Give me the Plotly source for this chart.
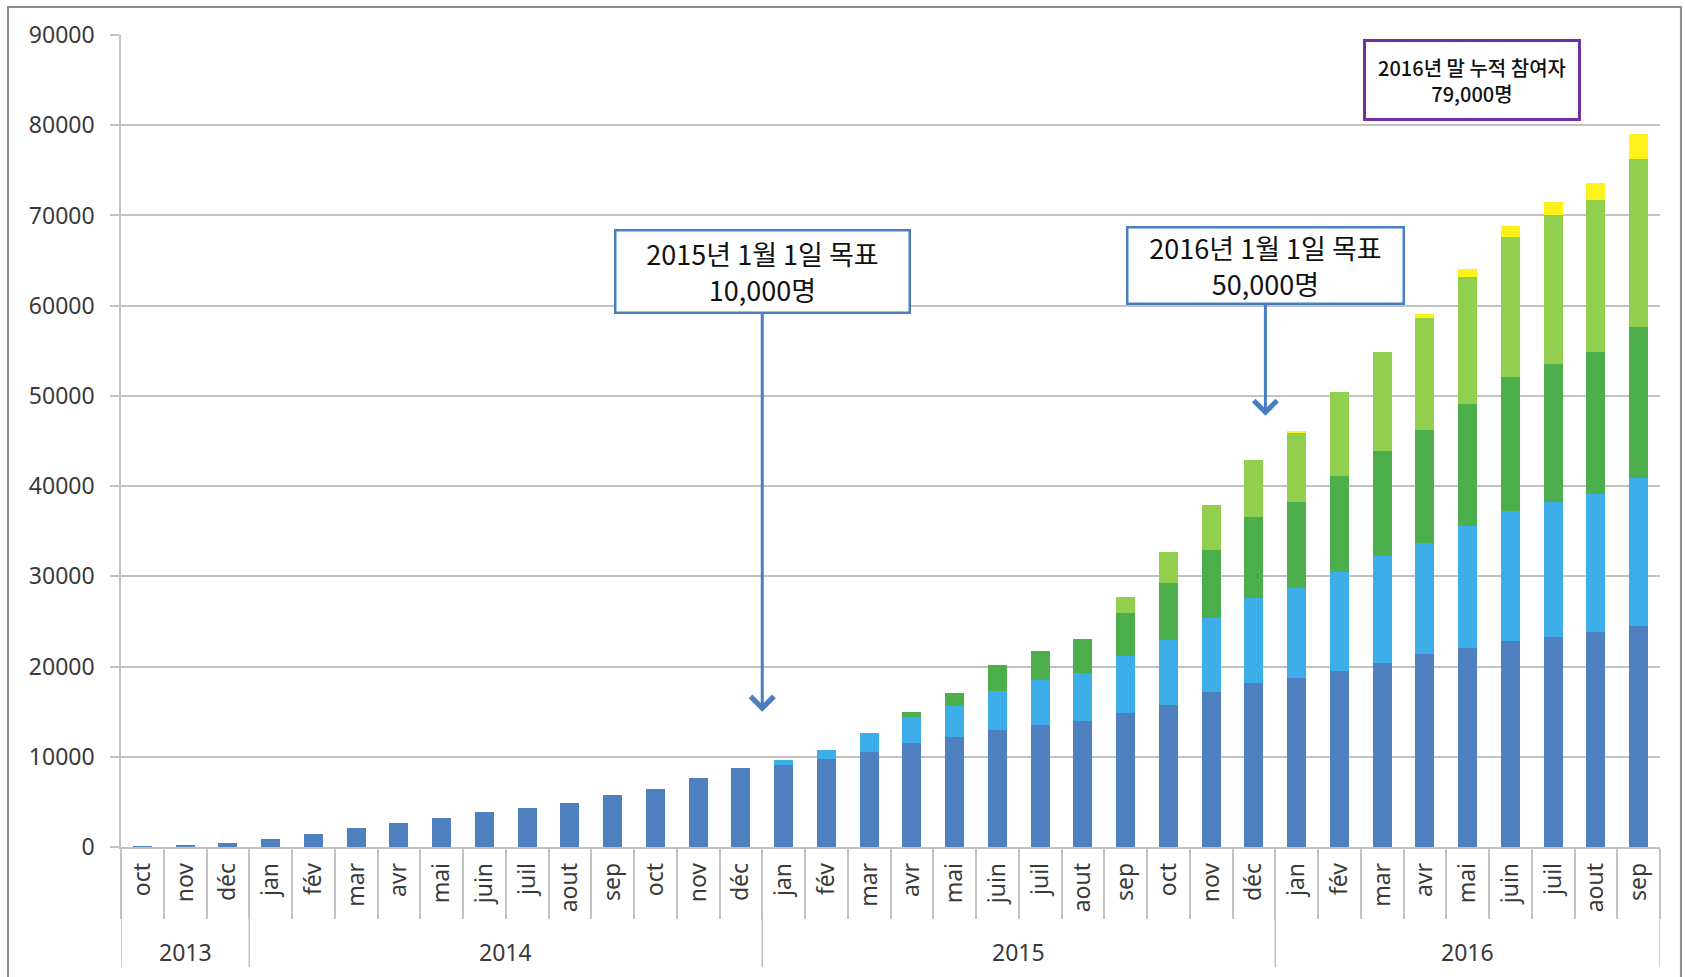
import plotly.graph_objects as go

# ---------------- data ----------------
year_labels = ["2013", "2014", "2015", "2016"]
months_per_year = [3, 12, 12, 9]
months = ["oct", "nov", "déc",
          "jan", "fév", "mar", "avr", "mai", "juin", "juil", "aout", "sep", "oct", "nov", "déc",
          "jan", "fév", "mar", "avr", "mai", "juin", "juil", "aout", "sep", "oct", "nov", "déc",
          "jan", "fév", "mar", "avr", "mai", "juin", "juil", "aout", "sep"]

series1 = [80, 120, 450,
           860, 1430, 2080, 2650, 3180, 3880, 4370, 4860, 5710, 6450, 7630, 8780,
           9100, 9710, 10530, 11550, 12160, 12980, 13510, 14000, 14900, 15760, 17140, 18160,
           18690, 19510, 20450, 21350, 22080, 22860, 23310, 23800, 24530]
series2 = [0] * 15 + [490, 1090, 2120, 2850, 3470, 4290, 4980, 5310, 6240, 7180, 8290, 9470,
                      10000, 11020, 11790, 12360, 13550, 14410, 14980, 15300, 16330]
series3 = [0] * 18 + [540, 1430, 2850, 3270, 3790, 4820, 6370, 7470, 8900,
                      9510, 10610, 11680, 12530, 13470, 14840, 15300, 15710, 16810]
series4 = [0] * 23 + [1800, 3340, 5060, 6370,
                      7760, 9300, 10890, 12350, 14050, 15480, 16410, 16860, 18630]
series5 = [0] * 27 + [200, 0, 0, 450, 890, 1260, 1480, 1920, 2740]

series_values = [series1, series2, series3, series4, series5]
series_names = ["S1", "S2", "S3", "S4", "S5"]
series_colors = ["#4E7FBF", "#3DAEE9", "#4DAE4C", "#92CF4F", "#FFF21A"]

y_ticks = [0, 10000, 20000, 30000, 40000, 50000, 60000, 70000, 80000, 90000]

# ---------------- figure ----------------
xs = list(range(len(months)))
fig = go.Figure()
for name, vals, col in zip(series_names, series_values, series_colors):
    fig.add_trace(go.Bar(x=xs, y=vals, name=name, marker=dict(color=col, line=dict(width=0))))

GRID = "#C2C2C2"
TXT = "#3A3A3A"
fig.update_layout(
    barmode="stack",
    bargap=0.56,
    width=1685, height=977,
    margin=dict(l=121, r=25, t=35, b=130, pad=0),
    plot_bgcolor="white", paper_bgcolor="white",
    showlegend=False,
    font=dict(family="Noto Sans, Noto Sans CJK KR", color=TXT),
)
fig.update_yaxes(
    range=[0, 90000], tickvals=y_ticks, ticktext=[str(v) for v in y_ticks],
    showgrid=True, gridcolor=GRID, gridwidth=1.5,
    ticks="outside", ticklen=9, tickcolor=GRID, tickwidth=1.5,
    showline=True, linecolor=GRID, linewidth=1.5,
    tickfont=dict(size=23, color=TXT), ticklabelstandoff=11, zeroline=False,
)
fig.update_xaxes(
    range=[-0.5, len(months) - 0.5], tickmode="array", tickvals=xs, ticktext=months,
    tickangle=-90, tickfont=dict(size=23, color=TXT), ticks="",
    showline=True, linecolor=GRID, linewidth=1.5, showgrid=False, zeroline=False,
    ticklabelstandoff=5,
    minor=dict(tickmode="linear", tick0=-0.5, dtick=1, ticks="outside", ticklen=70,
               tickcolor=GRID, tickwidth=1.5, showgrid=False),
)

# year dividers and labels
start = 0
bounds = [-0.5]
for yl, n in zip(year_labels, months_per_year):
    fig.add_annotation(x=start + (n - 1) / 2, y=-0.129, xref="x", yref="paper",
                       text=yl, showarrow=False, font=dict(size=23, color=TXT),
                       yanchor="middle")
    start += n
    bounds.append(start - 0.5)
for b in bounds:
    fig.add_shape(type="line", xref="x", yref="paper", x0=b, x1=b, y0=0, y1=-0.148,
                  line=dict(color=GRID, width=1.5))

# outer chart border
fig.add_shape(type="rect", xref="paper", yref="paper", x0=-0.0734, x1=1.0136,
              y0=-0.25, y1=1.0345, line=dict(color="#8C8C8C", width=2))

BLUE = "#4A7EBF"
KFONT = "Noto Sans CJK KR"
fig.add_annotation(x=14.5, y=15000, xref="x", yref="y",
                   text="2015년 1월 1일 목표<br>10,000명",
                   showarrow=True, ax=0, ay=-440, arrowhead=4, arrowsize=1.5,
                   arrowwidth=3, arrowcolor=BLUE,
                   bordercolor=BLUE, borderwidth=2.5, borderpad=2, bgcolor="white",
                   width=288, height=76, font=dict(family=KFONT, size=27, color="#111111"))
fig.add_annotation(x=26.27, y=47800, xref="x", yref="y",
                   text="2016년 1월 1일 목표<br>50,000명",
                   showarrow=True, ax=0, ay=-150, arrowhead=4, arrowsize=1.5,
                   arrowwidth=3, arrowcolor=BLUE,
                   bordercolor=BLUE, borderwidth=2.5, borderpad=2, bgcolor="white",
                   width=270, height=70, font=dict(family=KFONT, size=27, color="#111111"))
fig.add_annotation(x=31.1, y=85000, xref="x", yref="y",
                   text="2016년 말 누적 참여자<br>79,000명",
                   showarrow=False,
                   bordercolor="#7030A0", borderwidth=3, borderpad=2, bgcolor="white",
                   width=208, height=72,
                   font=dict(family=KFONT, size=20, color="#111111", weight=500))

fig.write_html("out.html")
